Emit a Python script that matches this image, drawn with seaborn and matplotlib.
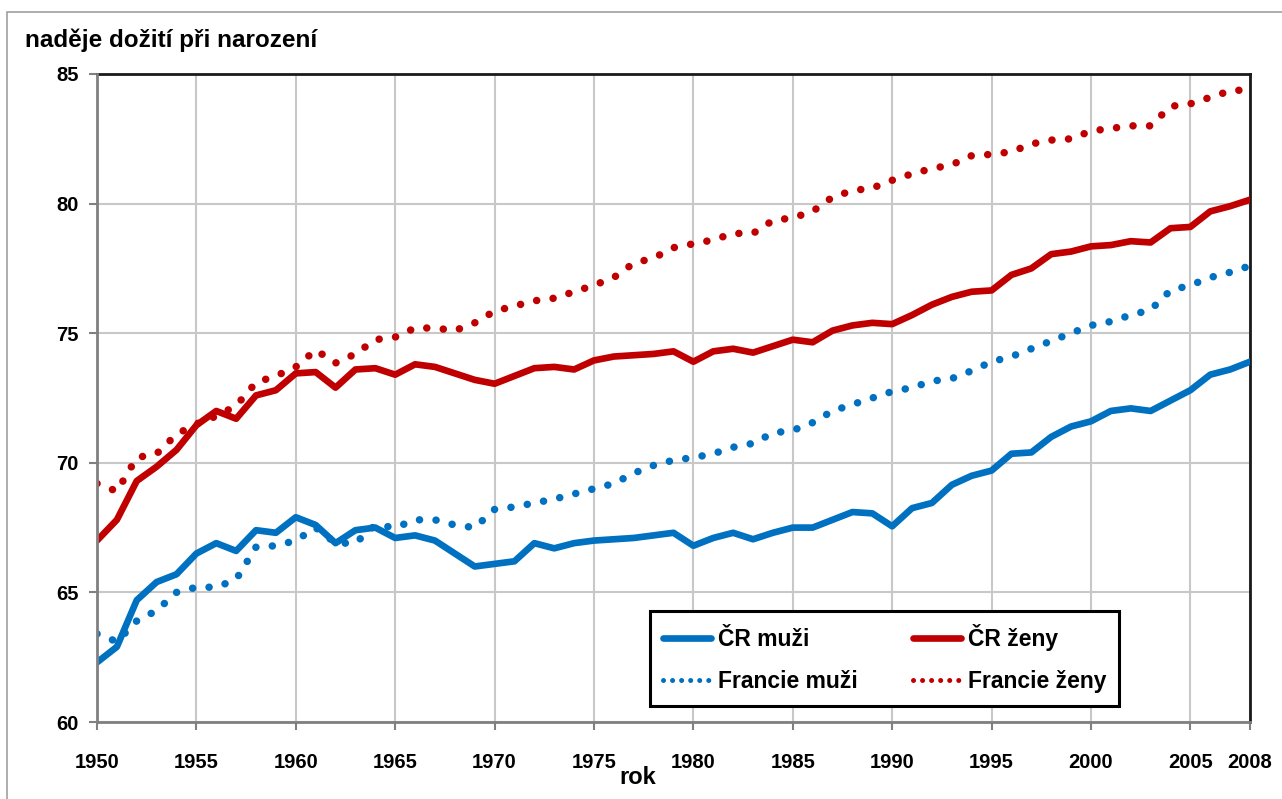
import matplotlib
matplotlib.use("Agg")
import matplotlib.pyplot as plt
from matplotlib.patches import Rectangle
from matplotlib.lines import Line2D
import seaborn as sns
import numpy as np
import pandas as pd

years = list(range(1950, 2009))

cr_muzi = [62.3, 62.9, 64.7, 65.4, 65.7, 66.5, 66.9, 66.6, 67.4, 67.3,
           67.9, 67.6, 66.9, 67.4, 67.5, 67.1, 67.2, 67.0, 66.5, 66.0,
           66.1, 66.2, 66.9, 66.7, 66.9, 67.0, 67.05, 67.1, 67.2, 67.3,
           66.8, 67.1, 67.3, 67.05, 67.3, 67.5, 67.5, 67.8, 68.1, 68.05,
           67.55, 68.25, 68.45, 69.15, 69.5, 69.7, 70.35, 70.4, 71.0, 71.4,
           71.6, 72.0, 72.1, 72.0, 72.4, 72.8, 73.4, 73.6, 73.9]

cr_zeny = [67.0, 67.8, 69.3, 69.85, 70.5, 71.45, 72.0, 71.7, 72.6, 72.8,
           73.45, 73.5, 72.9, 73.6, 73.65, 73.4, 73.8, 73.7, 73.45, 73.2,
           73.05, 73.35, 73.65, 73.7, 73.6, 73.95, 74.1, 74.15, 74.2, 74.3,
           73.9, 74.3, 74.4, 74.25, 74.5, 74.75, 74.65, 75.1, 75.3, 75.4,
           75.35, 75.7, 76.1, 76.4, 76.6, 76.65, 77.25, 77.5, 78.05, 78.15,
           78.35, 78.4, 78.55, 78.5, 79.05, 79.1, 79.7, 79.9, 80.15]

fr_muzi = [63.4, 63.1, 63.9, 64.3, 65.0, 65.2, 65.2, 65.5, 66.75, 66.8,
           67.0, 67.5, 66.9, 66.9, 67.6, 67.5, 67.8, 67.8, 67.6, 67.5,
           68.2, 68.3, 68.45, 68.6, 68.8, 69.0, 69.2, 69.6, 69.9, 70.1,
           70.2, 70.35, 70.6, 70.75, 71.15, 71.25, 71.55, 72.0, 72.25, 72.5,
           72.75, 72.9, 73.15, 73.25, 73.55, 73.9, 74.1, 74.4, 74.7, 75.0,
           75.3, 75.45, 75.7, 75.9, 76.65, 76.85, 77.15, 77.35, 77.6]

fr_zeny = [69.2, 68.9, 70.2, 70.35, 71.1, 71.5, 71.8, 72.2, 73.1, 73.35,
           73.7, 74.35, 73.85, 74.2, 74.75, 74.85, 75.2, 75.2, 75.1, 75.4,
           75.85, 76.05, 76.25, 76.35, 76.6, 76.85, 77.15, 77.7, 77.9, 78.3,
           78.45, 78.6, 78.85, 78.85, 79.35, 79.45, 79.7, 80.25, 80.5, 80.6,
           80.9, 81.15, 81.35, 81.5, 81.85, 81.9, 82.0, 82.3, 82.45, 82.5,
           82.8, 82.9, 83.0, 83.0, 83.75, 83.85, 84.1, 84.35, 84.4]

labels = ["ČR muži", "ČR ženy", "Francie muži", "Francie ženy"]
x_ticks = [1950, 1955, 1960, 1965, 1970, 1975, 1980, 1985, 1990, 1995, 2000, 2005, 2008]
y_ticks = [60, 65, 70, 75, 80, 85]

BLUE = "#0070C0"
RED = "#C00000"

sns.set_theme(style="white")
plt.rcParams['font.family'] = ['Liberation Sans', 'DejaVu Sans']
plt.rcParams['font.weight'] = 'bold'
plt.rcParams['text.color'] = 'black'

W, H = 1282, 799
fig = plt.figure(figsize=(W / 100, H / 100), dpi=100)
fig.patch.set_facecolor("white")
ax = fig.add_axes([97 / W, 1 - 722 / H, (1250 - 97) / W, (722 - 74) / H])

df = pd.DataFrame({"rok": years, labels[0]: cr_muzi, labels[1]: cr_zeny,
                   labels[2]: fr_muzi, labels[3]: fr_zeny})

lw = 4.8
lw_dot = 5.4
dot = (0, (0.01, 2.2))
specs = [(labels[0], BLUE, "-", lw), (labels[1], RED, "-", lw),
         (labels[2], BLUE, dot, lw_dot), (labels[3], RED, dot, lw_dot)]
for name, col, ls, w in specs:
    sns.lineplot(data=df, x="rok", y=name, ax=ax, color=col, linewidth=w,
                 linestyle=ls, dash_capstyle="round", solid_capstyle="round",
                 solid_joinstyle="round", legend=False, zorder=3)

ax.set_xlim(1950, 2008)
ax.set_ylim(60, 85)
ax.set_xticks(x_ticks)
ax.set_yticks(y_ticks)
ax.grid(True, color="#c8c8c8", linewidth=1.5, zorder=0)
ax.set_axisbelow(True)

for s in ["top", "right"]:
    ax.spines[s].set_color("#1a1a1a")
    ax.spines[s].set_linewidth(2.0)
for s in ["left", "bottom"]:
    ax.spines[s].set_color("#808080")
    ax.spines[s].set_linewidth(2.0)
    ax.spines[s].set_zorder(4)

ax.tick_params(axis="both", which="major", direction="out", length=6, width=1.5,
               color="#808080", labelsize=14.5)
ax.tick_params(axis="x", pad=16)
ax.tick_params(axis="y", pad=7)
ax.tick_params(top=False, right=False, bottom=True, left=True)
for t in ax.get_xticklabels() + ax.get_yticklabels():
    t.set_fontweight("bold")
    t.set_color("black")

ax.set_xlabel("")
ax.set_ylabel("")
fig.text(638 / W, 1 - 778 / H, "rok", ha="center", va="center",
         fontsize=17, fontweight="bold", color="black")
fig.text(25 / W, 1 - 40 / H, "naděje dožití při narození", ha="left", va="center",
         fontsize=17.5, fontweight="bold", color="black")

handles = [Line2D([0], [0], color=BLUE, lw=lw, solid_capstyle="round"),
           Line2D([0], [0], color=BLUE, lw=lw * 0.75, linestyle=(0, (0.01, 1.8)),
                  dash_capstyle="round"),
           Line2D([0], [0], color=RED, lw=lw, solid_capstyle="round"),
           Line2D([0], [0], color=RED, lw=lw * 0.75, linestyle=(0, (0.01, 1.8)),
                  dash_capstyle="round")]
hl = [labels[0], labels[2], labels[1], labels[3]]
leg = ax.legend(handles, hl, ncol=2, loc="lower left",
                bbox_to_anchor=((650 - 97) / 1153, (722 - 706) / 648,
                                (1119 - 650) / 1153, (706 - 612) / 648),
                mode="expand", frameon=True, fancybox=False, framealpha=1,
                edgecolor="black", prop={"size": 16.5, "weight": "bold"},
                handlelength=2.1, handletextpad=0.3, borderpad=0.55,
                labelspacing=0.85, borderaxespad=0)
leg.get_frame().set_linewidth(2.2)
leg.set_zorder(5)
for t in leg.get_texts():
    t.set_color("black")

fig.add_artist(Rectangle((7 / W, -0.05), 1.1, (1 - 12 / H) + 0.05,
                         transform=fig.transFigure, fill=False,
                         edgecolor="#a0a0a0", linewidth=1.2))

fig.savefig("out.png", dpi=100)
